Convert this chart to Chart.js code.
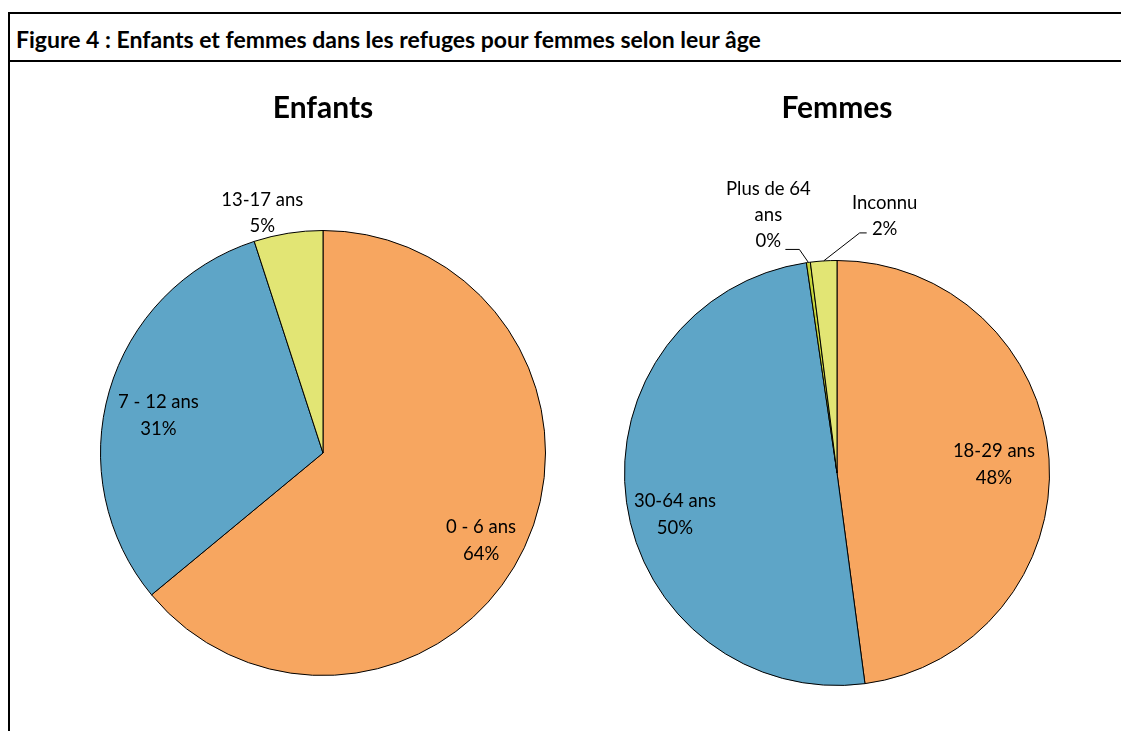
<!DOCTYPE html>
<html>
<head>
<meta charset="utf-8">
<script src="https://cdn.jsdelivr.net/npm/chart.js@4.4.1/dist/chart.umd.min.js"></script>
<style>
  body { margin: 0; background: #fff; font-family: Lato, sans-serif; }
  #frame { position: absolute; left: 8px; top: 12px; width: 1113px; height: 719px;
    border-left: 2px solid #000; border-top: 2px solid #000; box-sizing: border-box; }
  #head { position: absolute; left: 8px; top: 12px; width: 1113px; height: 50px;
    border-bottom: 2px solid #000; box-sizing: border-box; }
  #head span { position: absolute; left: 8px; top: 13px; line-height: 23px; font: bold 23px Lato, sans-serif; color: #000; }
  .box { position: absolute; top: 70px; width: 486px; }
</style>
</head>
<body>
<div id="frame"></div>
<div id="head"><span>Figure 4 : Enfants et femmes dans les refuges pour femmes selon leur âge</span></div>
<div class="box" style="left:80px;height:606px"><canvas id="enfants"></canvas></div>
<div class="box" style="left:594px;height:616px"><canvas id="femmes"></canvas></div>
<script>
// data
const enfantsLabels = ['0 - 6 ans', '7 - 12 ans', '13-17 ans'];
const enfantsValues = [64, 31, 5];
const enfantsPct = ['64%', '31%', '5%'];

const femmesLabels = ['18-29 ans', '30-64 ans', 'Plus de 64 ans', 'Inconnu'];
const femmesValues = [47.9, 49.8, 0.3, 2.0];
const femmesPct = ['48%', '50%', '0%', '2%'];

const enfantsColors = ['#F7A660', '#5EA5C7', '#E2E574'];
const femmesColors = ['#F7A660', '#5EA5C7', '#C6D53C', '#E2E574'];

// how each label sits: inside at a fraction of the radius, or outside with a leader line
const enfantsPlace = [
  { r: 0.815, shift: [-6, 10] },
  { r: 0.77, shift: [0, 10] },
  { out: true, dx: -26, dy: -7, lines: ['13-17 ans'] }
];
const femmesPlace = [
  { r: 0.74, shift: [0, 2] },
  { r: 0.77, shift: [0, 19] },
  { out: true, dx: -40, dy: -21, lines: ['Plus de 64', 'ans'], leader: [[-9, -13], [-23, -13]] },
  { out: true, dx: 61, dy: -32, lines: ['Inconnu'], leader: [[36, -28], [43, -28]] }
];

const LINE = 26;

const sliceLabels = {
  id: 'sliceLabels',
  afterDatasetsDraw(chart, args, opts) {
    const ctx = chart.ctx;
    const arcs = chart.getDatasetMeta(0).data;
    ctx.save();
    ctx.font = '18.5px Lato, sans-serif';
    ctx.fillStyle = '#000';
    ctx.textAlign = 'center';
    ctx.textBaseline = 'middle';
    arcs.forEach((arc, i) => {
      const p = opts.place[i];
      const mid = (arc.startAngle + arc.endAngle) / 2;
      if (!p.out) {
        const rr = arc.outerRadius * p.r;
        const x = arc.x + Math.cos(mid) * rr + p.shift[0];
        const y = arc.y + Math.sin(mid) * rr + p.shift[1];
        ctx.fillText(opts.labels[i], x, y - 27 / 2);
        ctx.fillText(opts.pct[i], x, y + 27 / 2);
      } else {
        const ex = arc.x + Math.cos(mid) * arc.outerRadius;
        const ey = arc.y + Math.sin(mid) * arc.outerRadius;
        const lines = p.lines.concat([opts.pct[i]]);
        const x = ex + p.dx;
        const yLast = ey + p.dy;
        lines.forEach((t, k) => ctx.fillText(t, x, yLast - (lines.length - 1 - k) * LINE));
        if (p.leader) {
          ctx.strokeStyle = '#000';
          ctx.lineWidth = 1;
          ctx.beginPath();
          ctx.moveTo(ex, ey);
          p.leader.forEach(([lx, ly]) => ctx.lineTo(ex + lx, ey + ly));
          ctx.stroke();
        }
      }
    });
    ctx.restore();
  }
};

function makePie(id, title, labels, values, colors, pct, place, padBottom) {
  return new Chart(document.getElementById(id), {
    type: 'pie',
    data: {
      labels: labels,
      datasets: [{
        data: values,
        backgroundColor: colors,
        borderColor: '#000',
        borderWidth: 1
      }]
    },
    options: {
      responsive: true,
      maintainAspectRatio: false,
      animation: false,
      rotation: 0,
      plugins: {
        legend: { display: false },
        tooltip: { enabled: false },
        title: {
          display: true,
          text: title,
          color: '#000',
          font: { family: 'Lato, sans-serif', size: 30, weight: 'bold' },
          padding: { top: 20, bottom: padBottom }
        },
        sliceLabels: { labels: labels, pct: pct, place: place }
      }
    },
    plugins: [sliceLabels]
  });
}

makePie('enfants', 'Enfants', enfantsLabels, enfantsValues, enfantsColors, enfantsPct, enfantsPlace, 104);
makePie('femmes', 'Femmes', femmesLabels, femmesValues, femmesColors, femmesPct, femmesPlace, 134);
</script>
</body>
</html>
